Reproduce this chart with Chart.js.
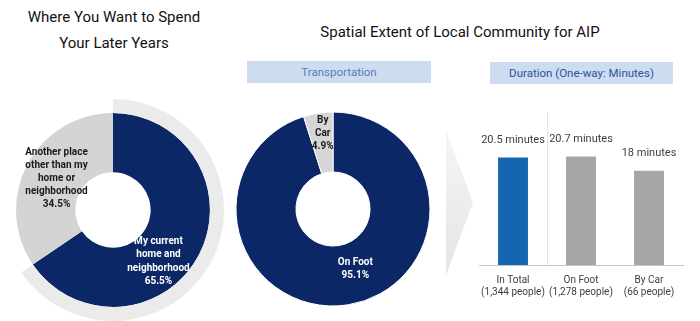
<!DOCTYPE html>
<html>
<head>
<meta charset="utf-8">
<script src="https://cdn.jsdelivr.net/npm/chart.js@4"></script>
<style>
  body { margin: 0; background: #fff; width: 700px; height: 321px; overflow: hidden; position: relative; font-family: Roboto, "Liberation Sans", sans-serif; }
  .abs { position: absolute; }
  .title { color: #111; font-size: 15px; text-align: center; line-height: 26px; }
  .head { background: #cddcf0; font-size: 11.5px; text-align: center; line-height: 22px; }
  .chevron { left: 446px; top: 130px; width: 27px; height: 145px;
    background: linear-gradient(#f6f6f6, #e4e4e4);
    clip-path: polygon(0 0, 100% 50%, 0 100%); }
</style>
</head>
<body>
<div class="abs title" style="left:14px; top:4px; width:200px;">Where You Want to Spend<br>Your Later Years</div>
<div class="abs title" style="left:300px; top:19px; width:320px;">Spatial Extent of Local Community for AIP</div>
<div class="abs head" style="left:247px; top:61px; width:184px; color:#5a7cb4;">Transportation</div>
<div class="abs head" style="left:490px; top:62px; width:183px; color:#2f5496;">Duration (One-way: Minutes)</div>
<div class="abs chevron"></div>

<div class="abs" style="left:1px; top:98px; width:224px; height:224px;"><canvas id="placeChart"></canvas></div>
<div class="abs" style="left:233px; top:109px; width:200px; height:200px;"><canvas id="modeChart"></canvas></div>
<div class="abs" style="left:470px; top:95px; width:230px; height:226px;"><canvas id="durationChart"></canvas></div>

<script>
// where to spend later years (%)
const placeLabels = [["My current", "home and", "neighborhood"], ["Another place", "other than my", "home or", "neighborhood"]];
const placeValues = [65.5, 34.5];

// transportation (%)
const modeLabels = [["On Foot"], ["By", "Car"]];
const modeValues = [95.1, 4.9];

// duration one-way (minutes)
const durationLabels = [["In Total", "(1,344 people)"], ["On Foot", "(1,278 people)"], ["By Car", "(66 people)"]];
const durationValues = [20.5, 20.7, 18];

const NAVY = "#0c2766";
const labelFont = 'Roboto, "Liberation Sans", sans-serif';

// draws the text inside each slice
const sliceLabels = {
    id: "sliceLabels",
    afterDatasetsDraw(chart, args, opts) {
        const ctx = chart.ctx;
        const meta = chart.getDatasetMeta(opts.dataset);
        const data = chart.data.datasets[opts.dataset].data;
        ctx.save();
        ctx.font = "bold 10px " + labelFont;
        ctx.textAlign = "center";
        ctx.textBaseline = "middle";
        meta.data.forEach(function (arc, i) {
            const p = arc.getCenterPoint();
            const lines = opts.labels[i].concat([data[i] + "%"]);
            const off = opts.offsets[i];
            const lh = 13.2;
            const y0 = p.y + off[1] - (lines.length - 1) * lh / 2;
            ctx.fillStyle = opts.colors[i];
            lines.forEach(function (t, k) {
                ctx.fillText(t, p.x + off[0], y0 + k * lh);
            });
        });
        ctx.restore();
    }
};

// value text above bars
const barValues = {
    id: "barValues",
    afterDatasetsDraw(chart) {
        const ctx = chart.ctx;
        const meta = chart.getDatasetMeta(0);
        ctx.save();
        ctx.font = "11px " + labelFont;
        ctx.fillStyle = "#404040";
        ctx.textAlign = "center";
        ctx.textBaseline = "middle";
        meta.data.forEach(function (bar, i) {
            ctx.fillText(durationValues[i] + " minutes", bar.x, bar.y - 17);
        });
        ctx.restore();
    }
};

Chart.defaults.animation = false;
Chart.defaults.plugins.legend.display = false;
Chart.defaults.plugins.tooltip.enabled = false;

new Chart(document.getElementById("placeChart"), {
    type: "doughnut",
    data: {
        labels: ["My current home and neighborhood", "Another place"],
        datasets: [
            { data: placeValues, backgroundColor: ["#ebebeb", "rgba(0,0,0,0)"], borderWidth: 0, weight: 14 },
            { data: placeValues, backgroundColor: [NAVY, "#d4d4d4"], borderWidth: 0, weight: 59 }
        ]
    },
    options: {
        responsive: true,
        maintainAspectRatio: false,
        radius: 111,
        cutout: 38,
        plugins: {
            sliceLabels: {
                dataset: 1,
                labels: placeLabels,
                colors: ["#ffffff", "#1a1a1a"],
                offsets: [[-14, 20], [3, 0]]
            }
        }
    },
    plugins: [sliceLabels]
});

new Chart(document.getElementById("modeChart"), {
    type: "doughnut",
    data: {
        labels: ["On Foot", "By Car"],
        datasets: [
            { data: modeValues, backgroundColor: [NAVY, "#d6d6d6"], borderColor: "#ffffff", borderWidth: 1 }
        ]
    },
    options: {
        responsive: true,
        maintainAspectRatio: false,
        radius: 97,
        cutout: 38,
        plugins: {
            sliceLabels: {
                dataset: 0,
                labels: modeLabels,
                colors: ["#ffffff", "#1a1a1a"],
                offsets: [[12, -6], [0, -9]]
            }
        }
    },
    plugins: [sliceLabels]
});

new Chart(document.getElementById("durationChart"), {
    type: "bar",
    data: {
        labels: durationLabels,
        datasets: [{
            data: durationValues,
            backgroundColor: ["#1566b0", "#a6a6a6", "#a6a6a6"],
            barPercentage: 0.44,
            categoryPercentage: 1
        }]
    },
    options: {
        responsive: true,
        maintainAspectRatio: false,
        layout: { padding: { left: 9, right: 17, top: 18, bottom: 14 } },
        scales: {
            x: {
                grid: {
                    drawTicks: false,
                    color: function (c) { return c.index === 1 ? "#e2e2e2" : "rgba(0,0,0,0)"; }
                },
                border: { color: "#c4c4c4", width: 1 },
                ticks: {
                    padding: 9,
                    color: "#404040",
                    autoSkip: false,
                    maxRotation: 0,
                    minRotation: 0,
                    font: { family: labelFont, size: 10 }
                }
            },
            y: { display: false, min: 0, max: 29 }
        }
    },
    plugins: [barValues]
});
</script>
</body>
</html>
